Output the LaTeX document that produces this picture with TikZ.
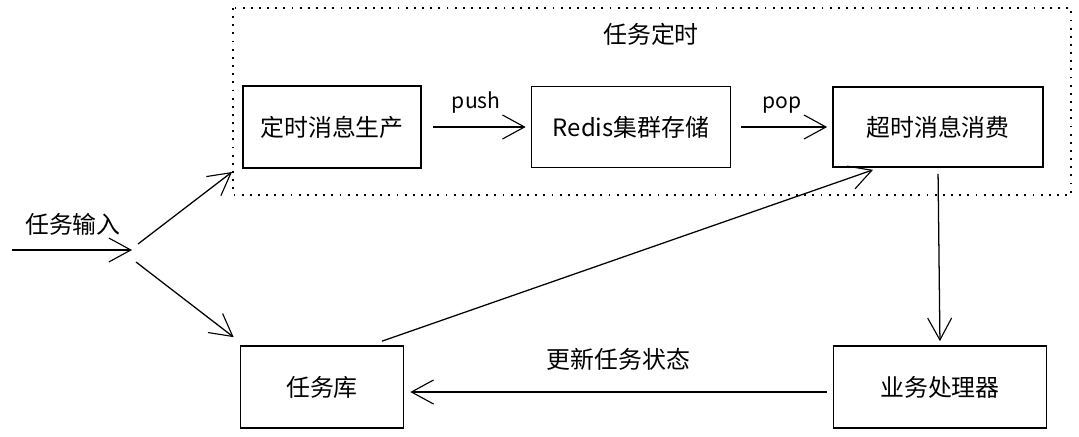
\documentclass[tikz,border=0pt]{standalone}
\usepackage{fontspec}
\setmainfont{Noto Sans CJK SC}
\usetikzlibrary{arrows.meta,positioning,calc}

\begin{document}
\begin{tikzpicture}[>={Straight Barb[length=5.5mm,width=6mm,line width=0.8pt]}, font=\fontsize{17}{20}\selectfont,
  box/.style={draw, line width=1.2pt, inner sep=0pt},
  flow/.style={->, line width=0.9pt},
  tag/.style={font=\fontsize{15}{17}\selectfont}]
  \useasboundingbox (0,0) rectangle (26.975,-10.9);

  % dotted frame
  \draw[line width=1.2pt, dash pattern=on 1.3pt off 4.5pt] (5.825,-0.2) rectangle (26.775,-4.875);
  \node (title) at (16.275,-0.85) {任务定时};

  % nodes
  \node[box, minimum width=4.45cm, minimum height=2.05cm] (prod) at (8.3,-3.175) {定时消息生产};
  \node[box, minimum width=4.975cm, minimum height=2.025cm] (redis) at (15.775,-3.175) {Redis集群存储};
  \node[box, minimum width=5.25cm, minimum height=2.0cm] (consume) at (23.45,-3.175) {超时消息消费};
  \node[box, minimum width=4.075cm, minimum height=2.05cm] (taskdb) at (8.05,-9.675) {任务库};
  \node[box, minimum width=5.325cm, minimum height=2.05cm] (handler) at (23.5,-9.675) {业务处理器};

  % input
  \coordinate (src) at (0.3,-6.25);
  \coordinate (split) at (3.3,-6.25);
  \coordinate (upper) at (5.8,-4.3);
  \node (inlabel) at (1.825,-5.6) {任务输入};
  \draw[flow] (src) -- (split);
  \draw[flow] ([shift={(0.15,0.15)}]split) -- (upper);
  \draw[flow] ([shift={(0.1,-0.3)}]split) -- ([shift={(-0.15,0.2)}]taskdb.north west);

  % timing chain
  \draw[flow, shorten <=0.275cm, shorten >=0.125cm] (prod) -- node[tag, above=0.2cm] {push} (redis);
  \draw[flow, shorten <=0.25cm, shorten >=0.125cm] (redis) -- node[tag, above=0.2cm] {pop} (consume);

  % feedback
  \draw[flow] ([xshift=1.5cm, yshift=0.1cm]taskdb.north) -- ([xshift=-1.625cm, yshift=-0.05cm]consume.south);
  \draw[flow, shorten <=0.15cm, shorten >=0.1cm] (consume.south) -- (handler.north);
  \draw[flow, shorten <=0.15cm, shorten >=0.15cm] ([yshift=-0.125cm]handler.west) -- node[above=0.4cm] {更新任务状态} ([yshift=-0.125cm]taskdb.east);
\end{tikzpicture}
\end{document}
